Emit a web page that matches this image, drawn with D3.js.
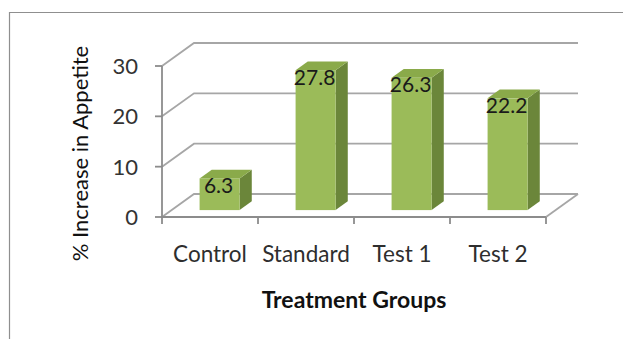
<!DOCTYPE html>
<html>
<head>
<meta charset="utf-8">
<script src="https://cdn.jsdelivr.net/npm/d3@7"></script>
<style>
  html, body { margin: 0; padding: 0; background: #ffffff; }
  svg { display: block; }
  text { font-family: Lato, "Open Sans", sans-serif; }
</style>
</head>
<body>
<svg id="chart" width="623" height="339"></svg>
<script>
// Percentage increase in appetite per treatment group
const categories = ["Control", "Standard", "Test 1", "Test 2"];
const values = [6.3, 27.8, 26.3, 22.2];
const yTicks = [0, 10, 20, 30];
const xTitle = "Treatment Groups";
const yTitle = "% Increase in Appetite";

const svg = d3.select("#chart");

// Front plane of the 3-D box and the depth offset of its back wall
const x0 = 162, x1 = 546, yBase = 217, yTop = 66;
const depthX = 32, depthY = -23;
// Bars sit in the middle slice of the box depth
const barFront = 0.3, barBack = 0.68;

const y = d3.scaleLinear().domain([0, 30]).range([yBase, yTop]);
const x = d3.scaleBand().domain(categories).range([x0, x1])
  .paddingInner(0.583).paddingOuter(0.2915);

const gridColor = "#a6a6a6";
const axisColor = "#8c8c8c";

// Outer chart frame
svg.append("path")
  .attr("d", "M9.5,339 L9.5,12.5 L623,12.5")
  .attr("fill", "none").attr("stroke", "#8f8f8f").attr("stroke-width", 1.2);

// Back wall gridlines with their diagonal runs across the side wall
const grid = svg.append("g");
yTicks.forEach(v => {
  grid.append("path")
    .attr("d", `M${x0},${y(v)} L${x0 + depthX},${y(v) + depthY} L${x1 + depthX},${y(v) + depthY}`)
    .attr("fill", "none").attr("stroke", gridColor).attr("stroke-width", 1.8);
});
// Floor: right edge
grid.append("path")
  .attr("d", `M${x1},${yBase} L${x1 + depthX},${yBase + depthY}`)
  .attr("fill", "none").attr("stroke", gridColor).attr("stroke-width", 1.8);

// Front axes
const axes = svg.append("g");
axes.append("line")
  .attr("x1", x0).attr("x2", x0).attr("y1", y(30)).attr("y2", yBase + 1)
  .attr("stroke", axisColor).attr("stroke-width", 1.8);
axes.append("line")
  .attr("x1", x0 - 1).attr("x2", x1).attr("y1", yBase).attr("y2", yBase)
  .attr("stroke", axisColor).attr("stroke-width", 1.8);
yTicks.forEach(v => {
  axes.append("line")
    .attr("x1", x0 - 7).attr("x2", x0).attr("y1", y(v)).attr("y2", y(v))
    .attr("stroke", axisColor).attr("stroke-width", 1.8);
  axes.append("text")
    .attr("x", 138).attr("y", y(v)).attr("dy", "0.36em")
    .attr("text-anchor", "end").attr("font-size", 22).attr("fill", "#333333")
    .text(v);
});
const boundaries = [x0].concat(categories.map(c => x(c) - x.step() * x.paddingOuter() + x.step()));
boundaries.forEach(bx => {
  axes.append("line")
    .attr("x1", bx).attr("x2", bx).attr("y1", yBase).attr("y2", yBase + 7)
    .attr("stroke", axisColor).attr("stroke-width", 1.8);
});

// 3-D bars: front, side and top faces
const bars = svg.append("g");
const fdx = depthX * barFront, fdy = depthY * barFront;
const bdx = depthX * (barBack - barFront), bdy = depthY * (barBack - barFront);
categories.forEach((c, i) => {
  const v = values[i];
  const left = x(c) + fdx, right = left + x.bandwidth();
  const bottom = y(0) + fdy, top = y(v) + fdy;
  bars.append("path")
    .attr("d", `M${right},${top} L${right + bdx},${top + bdy} L${right + bdx},${bottom + bdy} L${right},${bottom}Z`)
    .attr("fill", "#6b863a");
  bars.append("path")
    .attr("d", `M${left},${top} L${left + bdx},${top + bdy} L${right + bdx},${top + bdy} L${right},${top}Z`)
    .attr("fill", "#8aaa4a");
  bars.append("rect")
    .attr("x", left).attr("y", top).attr("width", x.bandwidth()).attr("height", bottom - top)
    .attr("fill", "#9bbb59");
  bars.append("text")
    .attr("x", (left + right) / 2 - 1).attr("y", top + 14.5)
    .attr("text-anchor", "middle").attr("font-size", 21).attr("fill", "#1a1a1a")
    .text(v.toFixed(1));
});

// Category labels
categories.forEach(c => {
  svg.append("text")
    .attr("x", x(c) + x.bandwidth() / 2).attr("y", 262)
    .attr("text-anchor", "middle").attr("font-size", 22.5).attr("fill", "#2e2e2e")
    .text(c);
});

// Axis titles
svg.append("text")
  .attr("x", (x0 + x1) / 2).attr("y", 308)
  .attr("text-anchor", "middle").attr("font-size", 23).attr("font-weight", "bold").attr("fill", "#111111")
  .text(xTitle);
svg.append("text")
  .attr("transform", "translate(88,153.5) rotate(-90)")
  .attr("text-anchor", "middle").attr("font-size", 22).attr("fill", "#111111")
  .text(yTitle);
</script>
</body>
</html>
